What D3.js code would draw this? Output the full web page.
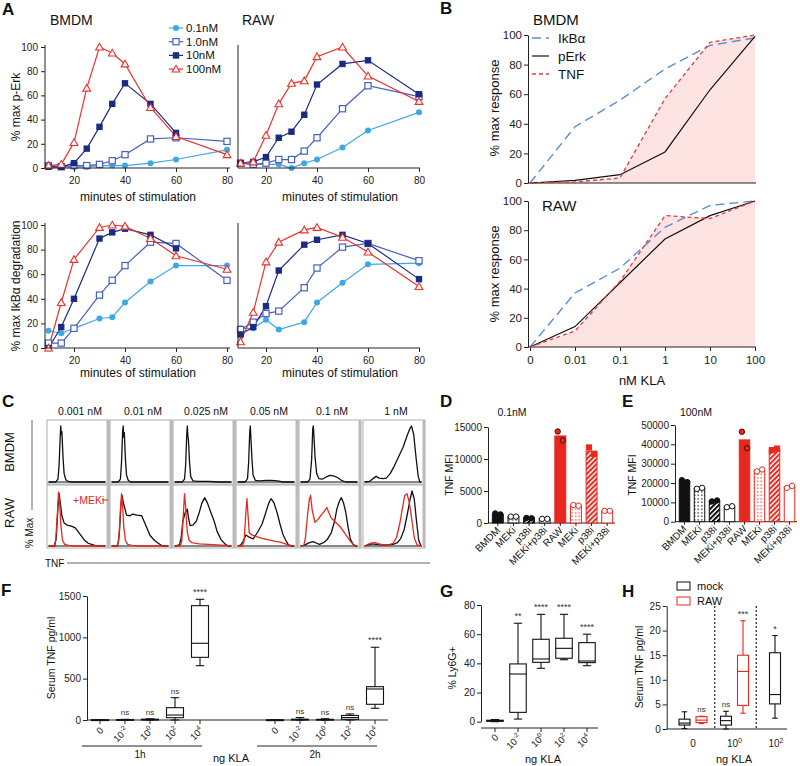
<!DOCTYPE html>
<html><head><meta charset="utf-8">
<script src="https://cdn.jsdelivr.net/npm/d3@7"></script>
<style>body{margin:0;background:#fff} svg{font-family:"Liberation Sans",Arial,sans-serif}</style>
</head><body><svg id="c" width="800" height="766"></svg>
<script>
// ===== Panel A data =====
const aTimesErk = [10,15,20,25,30,35,40,50,60,80];
const aBmdmErk01 = [1,1,1,1,2,2,2,4,7,15];
const aBmdmErk1  = [2,1,2,2,3,6,11,24,25,22];
const aBmdmErk10 = [1,1,4,16,34,53,70,53,29,null];
const aBmdmErk100= [2,3,21,66,100,95,86,50,26,11];
const aRawErk01 = [4,3,3,3,0,4,7,17,31,46];
const aRawErk1  = [4,3,4,7,7,14,25,49,68,59];
const aRawErk10 = [4,5,9,25,30,44,69,86,89,61];
const aRawErk100= [4,5,27,53,70,72,92,100,76,55];
const aTimesIkbBmdm = [10,15,20,30,35,40,50,60,80];
const aBmdmIkb01 = [14,12,16,24,25,37,54,67,67];
const aBmdmIkb1  = [4,4,16,43,55,67,86,85,55];
const aBmdmIkb10 = [0,17,40,89,94,97,92,81,null];
const aBmdmIkb100= [0,37,72,98,100,99,89,75,64];
const aTimesIkbRaw = [10,15,20,25,35,40,50,60,80];
const aRawIkb01 = [16,16,23,15,21,37,53,68,69];
const aRawIkb1  = [15,21,28,30,49,65,82,85,71];
const aRawIkb10 = [11,17,34,63,84,88,92,85,56];
const aRawIkb100= [5,29,70,86,96,98,90,78,50];
const aDoses = ["0.1nM","1.0nM","10nM","100nM"];
const aTimeTicks = [20,40,60,80];
const aPctTicks = [0,20,40,60,80,100];

// ===== Panel B data =====
const bDoses = ["0","0.01","0.1","1","10","100"];
const bBmdmIkb = [0,38,56,77,93,98];
const bBmdmErk = [0,1.8,5.6,21,63,99];
const bBmdmTnf = [0,0.7,3.4,57,95,100];
const bRawIkb = [0,37,54,82,97,100];
const bRawErk = [0,14,44,74,90,100];
const bRawTnf = [0,11,45,90,88,100];
const bLegend = ["IkBα","pErk","TNF"];

// ===== Panel C data (histograms: [fraction of TNF axis, % of max]) =====
const cDoses = ["0.001 nM","0.01 nM","0.025 nM","0.05 nM","0.1 nM","1 nM"];
const cBmdm = [
 [[0,0],[0.12,0],[0.16,5],[0.18,30],[0.2,80],[0.21,100],[0.22,85],[0.23,90],[0.25,45],[0.27,15],[0.3,4],[0.34,1],[0.4,0],[1,0]],
 [[0,0],[0.11,0],[0.15,5],[0.17,35],[0.19,90],[0.2,100],[0.21,80],[0.22,88],[0.24,40],[0.26,12],[0.29,3],[0.33,0],[1,0]],
 [[0,0],[0.13,0],[0.17,5],[0.19,30],[0.21,85],[0.22,100],[0.23,82],[0.24,75],[0.26,35],[0.28,10],[0.32,2],[0.4,1],[0.6,1],[0.8,0],[1,0]],
 [[0,0],[0.13,0],[0.17,6],[0.19,35],[0.21,90],[0.22,100],[0.23,80],[0.25,40],[0.27,12],[0.31,3],[0.4,2],[0.5,3],[0.6,3],[0.7,2],[0.8,0],[1,0]],
 [[0,0],[0.12,0],[0.16,5],[0.19,40],[0.21,95],[0.22,100],[0.23,85],[0.25,45],[0.28,15],[0.32,6],[0.38,5],[0.45,9],[0.52,12],[0.58,11],[0.65,8],[0.72,3],[0.8,0],[1,0]],
 [[0,0],[0.08,1],[0.14,6],[0.2,10],[0.25,7],[0.32,6],[0.38,7],[0.45,15],[0.52,28],[0.6,45],[0.68,62],[0.75,82],[0.8,95],[0.83,100],[0.87,85],[0.91,45],[0.95,10],[0.98,0],[1,0]]
];
const cRaw = [
 [[0,0],[0.1,0],[0.13,15],[0.16,70],[0.18,96],[0.2,80],[0.23,55],[0.27,42],[0.32,38],[0.4,36],[0.47,33],[0.55,22],[0.63,11],[0.7,5],[0.79,2],[0.85,0],[1,0]],
 [[0,0],[0.1,0],[0.13,20],[0.16,75],[0.18,92],[0.2,80],[0.26,56],[0.32,55],[0.37,58],[0.45,56],[0.53,55],[0.6,38],[0.68,19],[0.76,10],[0.84,4],[0.9,0],[1,0]],
 [[0,0],[0.08,2],[0.11,15],[0.14,45],[0.18,60],[0.22,67],[0.24,52],[0.27,37],[0.32,38],[0.38,45],[0.43,60],[0.48,78],[0.53,88],[0.58,78],[0.64,61],[0.7,45],[0.75,27],[0.82,12],[0.9,3],[0.95,0],[1,0]],
 [[0,0],[0.05,2],[0.09,8],[0.14,20],[0.2,16],[0.27,13],[0.35,25],[0.43,40],[0.5,62],[0.55,78],[0.59,86],[0.64,79],[0.7,60],[0.75,40],[0.8,22],[0.85,11],[0.9,2],[0.95,0],[1,0]],
 [[0,0],[0.05,1],[0.09,3],[0.15,6],[0.22,8],[0.28,5],[0.33,3],[0.4,6],[0.47,12],[0.54,24],[0.6,45],[0.64,67],[0.68,80],[0.72,88],[0.76,78],[0.8,61],[0.84,35],[0.88,13],[0.93,3],[0.97,0],[1,0]],
 [[0,0],[0.06,2],[0.12,4],[0.2,3],[0.3,2],[0.4,2],[0.5,3],[0.58,6],[0.64,14],[0.7,30],[0.75,55],[0.8,82],[0.84,100],[0.88,85],[0.92,45],[0.96,10],[1,0]]
];
const cRawMek = [
 [[0,0],[0.09,0],[0.12,10],[0.15,60],[0.17,98],[0.19,80],[0.21,40],[0.24,11],[0.28,3],[0.35,1],[0.5,0],[1,0]],
 [[0,0],[0.09,0],[0.12,10],[0.15,65],[0.17,95],[0.19,75],[0.21,35],[0.24,10],[0.28,3],[0.35,1],[0.5,0],[1,0]],
 [[0,0],[0.09,0],[0.12,8],[0.15,60],[0.17,95],[0.19,70],[0.22,25],[0.25,11],[0.3,6],[0.43,4],[0.6,3],[0.75,2],[0.9,1],[1,0]],
 [[0,0],[0.08,0],[0.11,10],[0.14,60],[0.16,86],[0.18,55],[0.2,25],[0.23,21],[0.3,18],[0.43,14],[0.55,11],[0.65,9],[0.75,7],[0.85,4],[0.9,2],[1,0]],
 [[0,0],[0.05,1],[0.08,15],[0.12,60],[0.15,85],[0.17,92],[0.2,65],[0.25,43],[0.3,48],[0.36,56],[0.41,62],[0.46,70],[0.5,60],[0.54,51],[0.6,45],[0.7,35],[0.77,25],[0.83,16],[0.88,9],[0.93,3],[1,0]],
 [[0,0],[0.05,3],[0.1,5],[0.18,6],[0.25,4],[0.32,2],[0.42,2],[0.5,5],[0.56,15],[0.62,40],[0.67,70],[0.71,92],[0.75,95],[0.79,80],[0.84,45],[0.88,15],[0.93,2],[1,0]]
];

// ===== Panels D/E data =====
const deCats = ["BMDM","MEKi","p38i","MEKi+p38i","RAW","MEKi","p38i","MEKi+p38i"];
const dMeans = [1300,1000,800,650,13600,2750,11200,1900];
const dPts = [[1500,1350],[1000,1000],[800,750],[650,650],[14300,12900],[2800,2700],[11800,10800],[1900,1900]];
const dTicks = [0,5000,10000,15000];
const eMeans = [21000,17200,10700,7750,42300,26500,37400,18000];
const ePts = [[21500,20500],[17000,17500],[10500,11000],[7500,8000],[46500,38000],[26000,27000],[37000,37800],[17500,18500]];
const eTicks = [0,10000,20000,30000,40000,50000];

// ===== Panel F data: [min, q1, median, q3, max] =====
const fCats = ["0","-2","0","2","4"]; // exponents (first "0" is plain zero)
const f1h = [[0,1,2,3,5],[0,1,3,5,8],[0,3,5,10,15],[0,28,60,149,270],[657,758,928,1383,1460]];
const f2h = [[0,0,1,2,4],[0,2,5,10,30],[0,2,5,8,15],[0,8,30,55,73],[142,190,375,403,880]];
const f1hSig = ["","ns","ns","ns","****"];
const f2hSig = ["","ns","ns","ns","****"];
const fTicks = [0,500,1000,1500];

// ===== Panel G data =====
const gBoxes = [[0,0.3,0.5,1,1.5],[1.8,6.4,32.7,39.6,67.5],[36.6,40.7,43,56.5,73.6],[42.5,43.5,50.3,57.2,73.6],[38.4,40.5,41.6,54.2,60]];
const gSig = ["","**","****","****","****"];
const gTicks = [0,20,40,60,80];

// ===== Panel H data =====
const hGroups = ["0","0","2"];
const hMock = [[0.1,0.8,1.2,2,3.5],[0,0.8,1.7,2.6,3.6],[2.2,5.1,7,15.5,19]];
const hRaw  = [[1.1,1.3,1.8,2.5,2.6],[3.2,4.8,11.7,15,22],null];
const hMockSig = ["","ns","*"];
const hRawSig = ["ns","***",""];
const hTicks = [0,5,10,15,20,25];

// ================= drawing =================
const fmt = d3.format("d");
const svg = d3.select("#c");
svg.append("rect").attr("width",800).attr("height",766).attr("fill","#fff");
const defs = svg.append("defs");
function dotPat(id,col){const p=defs.append("pattern").attr("id",id).attr("width",3.5).attr("height",3.5).attr("patternUnits","userSpaceOnUse");
  p.append("rect").attr("width",3.5).attr("height",3.5).attr("fill","#fff");
  p.append("circle").attr("cx",1.75).attr("cy",1.75).attr("r",0.75).attr("fill",col);}
function hatchPat(id,col){const p=defs.append("pattern").attr("id",id).attr("width",3.5).attr("height",3.5).attr("patternUnits","userSpaceOnUse").attr("patternTransform","rotate(45)");
  p.append("rect").attr("width",3.5).attr("height",3.5).attr("fill","#fff");
  p.append("rect").attr("width",2).attr("height",3.5).attr("fill",col);}
const RED="#e8281e";
dotPat("dotsK","#000"); dotPat("dotsR",RED); hatchPat("hatchK","#000"); hatchPat("hatchR",RED);

function label(txt,x,y,size,opt={}){
  const t=svg.append("text").attr("x",x).attr("y",y).attr("font-size",size).attr("fill",opt.fill||"#111")
    .attr("text-anchor",opt.anchor||"start").text(txt);
  if(opt.bold) t.attr("font-weight","bold");
  if(opt.rot) t.attr("transform",`rotate(${opt.rot},${x},${y})`);
  return t;
}
function styleAxis(g,fs){g.selectAll("text").attr("font-size",fs).attr("fill","#222").attr("font-family",'"Liberation Sans",Arial,sans-serif');
  g.selectAll("line,path").attr("stroke","#222");}

// ---------- Panel A ----------
const aColors=["#3ea8e6","#4661c2","#1b2a82","#ee2f2a"];
const aMark=["circle","sqOpen","sqFill","tri"];
function marker(g,type,col,x,y){
  if(type==="circle") g.append("circle").attr("cx",x).attr("cy",y).attr("r",3).attr("fill",col);
  else if(type==="sqOpen") g.append("rect").attr("x",x-3.1).attr("y",y-3.1).attr("width",6.2).attr("height",6.2).attr("fill","#fff").attr("stroke",col).attr("stroke-width",1.2);
  else if(type==="sqFill") g.append("rect").attr("x",x-3.2).attr("y",y-3.2).attr("width",6.4).attr("height",6.4).attr("fill",col);
  else g.append("path").attr("d",d3.symbol(d3.symbolTriangle,26)()).attr("transform",`translate(${x},${y+0.7})`).attr("fill","#fff").attr("stroke",col).attr("stroke-width",1.1);
}
function aPlot(times,list,xr,yr,axisX,showY){
  const x=d3.scaleLinear([10,80],xr), y=d3.scaleLinear([0,100],yr);
  const g=svg.append("g");
  const ax=svg.append("g").attr("transform",`translate(0,${yr[0]})`).call(d3.axisBottom(x).tickValues(aTimeTicks).tickSize(4).tickPadding(5).tickSizeOuter(0));
  ax.select(".domain").remove(); styleAxis(ax,10);
  svg.append("line").attr("x1",axisX[0]).attr("x2",axisX[1]).attr("y1",yr[0]).attr("y2",yr[0]).attr("stroke","#222");
  svg.append("line").attr("x1",axisX[0]).attr("x2",axisX[0]).attr("y1",yr[0]).attr("y2",yr[1]-2).attr("stroke","#222");
  if(showY){const ay=svg.append("g").attr("transform",`translate(${axisX[0]},0)`).call(d3.axisLeft(y).tickValues(aPctTicks).tickSize(4).tickPadding(3).tickSizeOuter(0));
    ay.select(".domain").remove(); styleAxis(ay,10);}
  list.forEach((vals,i)=>{
    const pts=times.map((t,j)=>[t,vals[j]]).filter(p=>p[1]!=null);
    g.append("path").datum(pts).attr("d",d3.line().x(d=>x(d[0])).y(d=>y(d[1]))).attr("fill","none").attr("stroke",aColors[i]).attr("stroke-width",1.2);
  });
  list.forEach((vals,i)=>{
    times.forEach((t,j)=>{if(vals[j]!=null) marker(g,aMark[i],aColors[i],x(t),y(vals[j]));});
  });
}
aPlot(aTimesErk,[aBmdmErk01,aBmdmErk1,aBmdmErk10,aBmdmErk100],[48.5,227],[168,47],[45,230],true);
aPlot(aTimesErk,[aRawErk01,aRawErk1,aRawErk10,aRawErk100],[240.5,419],[168,47],[238,420],false);
aPlot(aTimesIkbBmdm,[aBmdmIkb01,aBmdmIkb1,aBmdmIkb10,aBmdmIkb100],[48.5,227],[348,225],[45,230],true);
aPlot(aTimesIkbRaw,[aRawIkb01,aRawIkb1,aRawIkb10,aRawIkb100],[240.5,419],[348,225],[238,420],false);
label("A",2,15,17,{bold:true});
label("BMDM",50,25,14); label("RAW",242,25,14);
label("% max p-Erk",20,107,12,{anchor:"middle",rot:-90});
label("% max IkBα degradation",20,286,12,{anchor:"middle",rot:-90});
label("minutes of stimulation",138,201,12,{anchor:"middle"}); label("minutes of stimulation",340,201,12,{anchor:"middle"});
label("minutes of stimulation",138,377,12,{anchor:"middle"}); label("minutes of stimulation",340,377,12,{anchor:"middle"});
aDoses.forEach((d,i)=>{const yy=28+i*13.7;
  svg.append("line").attr("x1",169).attr("x2",183).attr("y1",yy).attr("y2",yy).attr("stroke",aColors[i]).attr("stroke-width",1.2);
  marker(svg,aMark[i],aColors[i],176,yy);
  label(d,186,yy+4,11.5);
});

// ---------- Panel B ----------
const bStyles=[{c:"#5a8fd4",dash:"9,5",w:1.4},{c:"#111",dash:null,w:1.2},{c:"#e8383a",dash:"4,3",w:1.3}];
function bPlot(ik,erk,tnf,yr,showX){
  const x=d3.scalePoint(bDoses,[530,755]), y=d3.scaleLinear([0,100],yr);
  svg.append("path").datum(tnf).attr("d",d3.area().x((d,i)=>x(bDoses[i])).y0(y(0)).y1(d=>y(d))).attr("fill","#fde3e1");
  const ay=svg.append("g").attr("transform","translate(528,0)").call(d3.axisLeft(y).tickValues(aPctTicks).tickSize(4).tickPadding(2).tickSizeOuter(0));
  styleAxis(ay,11.5);
  const ax=svg.append("g").attr("transform",`translate(0,${yr[0]})`).call(d3.axisBottom(x).tickSize(showX?4:0).tickPadding(5).tickSizeOuter(0));
  styleAxis(ax,11.5); ax.select(".domain").attr("d",`M528,0H756`);
  if(!showX) ax.selectAll("text").remove();
  [ik,erk,tnf].forEach((vals,i)=>{
    const p=svg.append("path").datum(vals).attr("d",d3.line().x((d,j)=>x(bDoses[j])).y(d=>y(d))).attr("fill","none").attr("stroke",bStyles[i].c).attr("stroke-width",bStyles[i].w);
    if(bStyles[i].dash) p.attr("stroke-dasharray",bStyles[i].dash);
  });
}
bPlot(bBmdmIkb,bBmdmErk,bBmdmTnf,[183,35],false);
bPlot(bRawIkb,bRawErk,bRawTnf,[347,201],true);
label("B",440,14,17,{bold:true});
label("BMDM",533,25,15); label("RAW",542,211,15);
bLegend.forEach((t,i)=>{const yy=38+i*18;
  const l=svg.append("line").attr("x1",532).attr("x2",549).attr("y1",yy).attr("y2",yy).attr("stroke",bStyles[i].c).attr("stroke-width",bStyles[i].w);
  if(bStyles[i].dash) l.attr("stroke-dasharray",bStyles[i].dash);
  label(t,558,yy+5,13.5);
});
label("% max response",499,108,13,{anchor:"middle",rot:-90});
label("% max response",499,274,13,{anchor:"middle",rot:-90});
label("nM KLA",642,385,13,{anchor:"middle"});

// ---------- Panel C ----------
label("C",2,407,17,{bold:true});
const cX=[47,110,173,236,299,363], cW=62;
const rows=[{top:420,h:64},{top:485,h:63}];
cDoses.forEach((d,i)=>label(d,cX[i]+cW/2+2,415,10.5,{anchor:"middle"}));
function hist(data,bx,row,col){
  const x=d3.scaleLinear([0,1],[bx+2,bx+cW-4]), y=d3.scaleLinear([0,100],[row.top+row.h-2,row.top+6]);
  svg.append("path").datum(data).attr("d",d3.line().x(d=>x(d[0])).y(d=>y(d[1]))).attr("fill","none").attr("stroke",col).attr("stroke-width",1.3).attr("stroke-linejoin","round");
}
rows.forEach((row,r)=>{
  cX.forEach((bx,i)=>{
    svg.append("rect").attr("x",bx).attr("y",row.top).attr("width",cW).attr("height",row.h).attr("fill","#fff").attr("stroke","#999").attr("stroke-width",0.8);
    svg.append("rect").attr("x",bx+cW-2.5).attr("y",row.top).attr("width",2.5).attr("height",row.h).attr("fill","#bbb");
    svg.append("line").attr("x1",bx+1).attr("x2",bx+cW-3).attr("y1",row.top+row.h-2).attr("y2",row.top+row.h-2).attr("stroke","#111").attr("stroke-width",1);
    if(r===0) hist(cBmdm[i],bx,row,"#111");
    else { hist(cRaw[i],bx,row,"#111"); hist(cRawMek[i],bx,row,RED); }
  });
});
label("BMDM",14,452,13,{anchor:"middle",rot:-90});
label("RAW",14,513,13,{anchor:"middle",rot:-90});
svg.append("line").attr("x1",32).attr("x2",32).attr("y1",420).attr("y2",510).attr("stroke","#666");
label("% Max",33,533,10,{anchor:"middle",rot:-90});
label("TNF",45,567,10);
svg.append("line").attr("x1",67).attr("x2",430).attr("y1",563).attr("y2",563).attr("stroke","#666");
label("+MEKi",73,504,10.5,{fill:RED});
svg.append("line").attr("x1",102).attr("x2",108).attr("y1",500).attr("y2",500).attr("stroke",RED);

// ---------- Panels D/E ----------
const deFill=["#111","url(#dotsK)","url(#hatchK)","#fff",RED,"url(#dotsR)","url(#hatchR)","#fff"];
const deStroke=["#111","#111","#111","#111",RED,RED,RED,RED];
const deDotFill=["#111","#fff","#111","#fff",RED,"#fff",RED,"#fff"];
const deDotStroke=["#111","#111","#111","#111","#4a0a0a",RED,RED,RED];
function barPanel(means,pts,ticks,xr,yr,title,titleX){
  const x=d3.scaleBand(d3.range(8),[xr[0]+2,xr[1]]).paddingInner(0.3).paddingOuter(0.15);
  const y=d3.scaleLinear([0,ticks[ticks.length-1]],yr);
  const ay=svg.append("g").attr("transform",`translate(${xr[0]},0)`).call(d3.axisLeft(y).tickValues(ticks).tickFormat(fmt).tickSize(4).tickPadding(2).tickSizeOuter(0));
  styleAxis(ay,10);
  svg.append("line").attr("x1",xr[0]).attr("x2",xr[1]).attr("y1",yr[0]).attr("y2",yr[0]).attr("stroke","#222");
  means.forEach((m,i)=>{
    svg.append("rect").attr("x",x(i)).attr("y",y(m)).attr("width",x.bandwidth()).attr("height",y(0)-y(m))
      .attr("fill",deFill[i]).attr("stroke",deStroke[i]).attr("stroke-width",1);
    pts[i].forEach((v,k)=>{
      const cx=x(i)+x.bandwidth()/2+(k?2.6:-2.6);
      if(i===6) svg.append("rect").attr("x",cx-2.6).attr("y",y(v)-2.6).attr("width",5.2).attr("height",5.2).attr("fill",deDotFill[i]).attr("stroke",deDotStroke[i]);
      else svg.append("circle").attr("cx",cx).attr("cy",y(v)).attr("r",2.7).attr("fill",deDotFill[i]).attr("stroke",deDotStroke[i]).attr("stroke-width",1);
    });
    svg.append("line").attr("x1",x(i)+x.bandwidth()/2).attr("x2",x(i)+x.bandwidth()/2).attr("y1",yr[0]).attr("y2",yr[0]+3).attr("stroke","#222");
    label(deCats[i],x(i)+x.bandwidth()/2+3,yr[0]+8,10,{anchor:"end",rot:-45});
  });
  label(title,titleX,416,10.5,{anchor:"middle"});
}
barPanel(dMeans,dPts,dTicks,[488,615],[523,427],"0.1nM",512);
barPanel(eMeans,ePts,eTicks,[675,797],[521.7,425],"100nM",696);
label("D",440,407,17,{bold:true}); label("E",622,407,17,{bold:true});
label("TNF MFI",453,475,10.5,{anchor:"middle",rot:-90});
label("TNF MFI",636,475,10.5,{anchor:"middle",rot:-90});

// ---------- Box plot helper ----------
function boxplot(xc,w,b,y,col,sig){
  const g=svg.append("g").attr("stroke",col).attr("fill","none").attr("stroke-width",1.1);
  g.append("line").attr("x1",xc).attr("x2",xc).attr("y1",y(b[0])).attr("y2",y(b[4]));
  g.append("line").attr("x1",xc-w/4).attr("x2",xc+w/4).attr("y1",y(b[0])).attr("y2",y(b[0]));
  g.append("line").attr("x1",xc-w/4).attr("x2",xc+w/4).attr("y1",y(b[4])).attr("y2",y(b[4]));
  g.append("rect").attr("x",xc-w/2).attr("y",y(b[3])).attr("width",w).attr("height",Math.max(0.8,y(b[1])-y(b[3]))).attr("fill","#fff");
  g.append("line").attr("x1",xc-w/2).attr("x2",xc+w/2).attr("y1",y(b[2])).attr("y2",y(b[2]));
  if(sig) label(sig,xc,y(b[4])-4,sig==="ns"?8:9,{anchor:"middle",fill:"#333"});
}
function tickLab(txt,exp,x,y,size,rot){
  const t=svg.append("text").attr("x",x).attr("y",y).attr("font-size",size).attr("fill","#222").attr("text-anchor",rot?"end":"middle");
  if(rot) t.attr("transform",`rotate(-45,${x},${y})`);
  if(exp===null){t.text(txt);} else {t.append("tspan").text("10"); t.append("tspan").attr("dy",-4).attr("font-size",size*0.7).text(exp);}
}

// ---------- Panel F ----------
label("F",1,596,17,{bold:true});
{
  const slots=d3.range(12);
  const x=d3.scalePoint(slots,[100,375]);
  const y=d3.scaleLinear([0,1500],[720,596]);
  const ay=svg.append("g").attr("transform","translate(87,0)").call(d3.axisLeft(y).tickValues(fTicks).tickFormat(fmt).tickSize(4).tickPadding(2).tickSizeOuter(0));
  styleAxis(ay,10);
  svg.append("line").attr("x1",87).attr("x2",388).attr("y1",720).attr("y2",720).attr("stroke","#222");
  [[f1h,f1hSig,0],[f2h,f2hSig,7]].forEach(([data,sig,off])=>{
    data.forEach((b,i)=>{
      const xc=x(off+i);
      boxplot(xc,17,b,y,"#111",sig[i]);
      svg.append("line").attr("x1",xc).attr("x2",xc).attr("y1",720).attr("y2",724).attr("stroke","#222");
      tickLab(i===0?"0":null,i===0?null:fCats[i],xc+4,731,9.5,true);
    });
    svg.append("line").attr("x1",x(off)-18).attr("x2",x(off+4)+2).attr("y1",746).attr("y2",746).attr("stroke","#222");
    label(off?"2h":"1h",(x(off)+x(off+4))/2-10,758,10,{anchor:"middle"});
  });
  label("ng KLA",231,762,11,{anchor:"middle"});
  label("Serum TNF pg/ml",55,658,10.5,{anchor:"middle",rot:-90});
}

// ---------- Panel G ----------
label("G",440,597,17,{bold:true});
{
  const x=d3.scalePoint(d3.range(5),[495,587]);
  const y=d3.scaleLinear([0,80],[721.7,605]);
  const ay=svg.append("g").attr("transform","translate(481,0)").call(d3.axisLeft(y).tickValues(gTicks).tickSize(4).tickPadding(2).tickSizeOuter(0));
  styleAxis(ay,10);
  svg.append("line").attr("x1",481).attr("x2",598).attr("y1",728).attr("y2",728).attr("stroke","#222");
  gBoxes.forEach((b,i)=>{
    boxplot(x(i),16.5,b,y,"#111",gSig[i]);
    svg.append("line").attr("x1",x(i)).attr("x2",x(i)).attr("y1",728).attr("y2",732).attr("stroke","#222");
    tickLab(i===0?"0":null,i===0?null:fCats[i],x(i)+4,738,9.5,true);
  });
  label("ng KLA",543,763,11,{anchor:"middle"});
  label("% Ly6G+",456,668,10.5,{anchor:"middle",rot:-90});
}

// ---------- Panel H ----------
label("H",622,597,17,{bold:true});
{
  const x=d3.scalePoint(d3.range(3),[693,776]);
  const y=d3.scaleLinear([0,25],[729,606]);
  const ay=svg.append("g").attr("transform","translate(666.7,0)").call(d3.axisLeft(y).tickValues(hTicks).tickSize(4).tickPadding(2).tickSizeOuter(0));
  styleAxis(ay,10);
  svg.append("line").attr("x1",666.7).attr("x2",787).attr("y1",729).attr("y2",729).attr("stroke","#222");
  [0.5,1.5].forEach(k=>{const xx=(x(Math.floor(k))+x(Math.ceil(k)))/2+1;
    svg.append("line").attr("x1",xx).attr("x2",xx).attr("y1",606).attr("y2",729).attr("stroke","#222").attr("stroke-width",1.2).attr("stroke-dasharray","2,2");});
  hGroups.forEach((gname,i)=>{
    const both=hRaw[i]!==null;
    boxplot(x(i)-(both?8.5:1),11,hMock[i],y,"#111",hMockSig[i]);
    if(both) boxplot(x(i)+8.5,11,hRaw[i],y,RED,hRawSig[i]);
    tickLab(i===0?"0":null,i===0?null:gname,x(i),747,10,false);
  });
  svg.append("rect").attr("x",677).attr("y",582).attr("width",13).attr("height",8).attr("fill","#fff").attr("stroke","#111");
  label("mock",697,590,11);
  svg.append("rect").attr("x",677).attr("y",597).attr("width",13).attr("height",8).attr("fill","#fff").attr("stroke",RED);
  label("RAW",697,605,11);
  label("ng KLA",734,763,11,{anchor:"middle"});
  label("Serum TNF pg/ml",643,667,10.5,{anchor:"middle",rot:-90});
}
</script></body></html>
